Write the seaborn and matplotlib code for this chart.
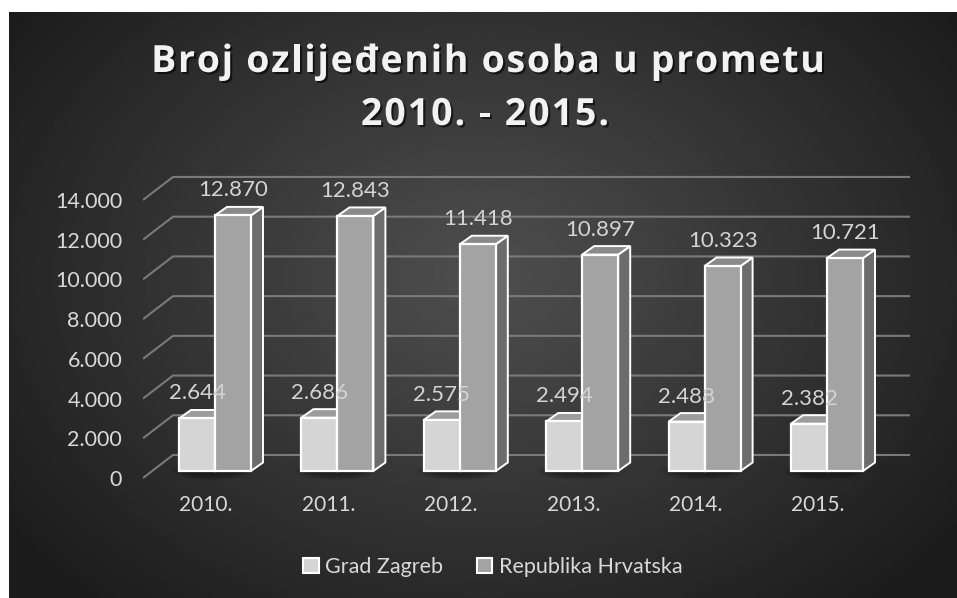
import matplotlib
matplotlib.use("Agg")
import matplotlib.pyplot as plt
import matplotlib.patheffects as pe
from matplotlib.patches import Polygon, Patch, Ellipse
from matplotlib.font_manager import FontProperties, findfont, get_font
from matplotlib.transforms import IdentityTransform
import seaborn as sns
import numpy as np
import pandas as pd

# podaci
godine = ["2010.", "2011.", "2012.", "2013.", "2014.", "2015."]
grad_zagreb = [2644, 2686, 2575, 2494, 2488, 2382]
republika_hrvatska = [12870, 12843, 11418, 10897, 10323, 10721]
serije = ["Grad Zagreb", "Republika Hrvatska"]
y_ticks = [0, 2000, 4000, 6000, 8000, 10000, 12000, 14000]
y_tick_labels = ["0", "2.000", "4.000", "6.000", "8.000", "10.000", "12.000", "14.000"]
naslov = ["Broj ozlijeđenih osoba u prometu", "2010. - 2015."]

def fmt(v):
    return f"{v:,}".replace(",", ".")

df = pd.DataFrame({
    "godina": godine * 2,
    "broj": grad_zagreb + republika_hrvatska,
    "podrucje": [serije[0]] * 6 + [serije[1]] * 6,
})

W, H = 957, 598
fig = plt.figure(figsize=(W / 100, H / 100), dpi=100, facecolor="white")
plt.rcParams['font.family'] = ['Lato', 'DejaVu Sans']

# pozadina - radijalni gradijent
bg = fig.add_axes([9 / W, 0, (W - 9) / W, (H - 12) / H])
yy, xx = np.mgrid[0:1:300j, 0:1:500j]
r = np.sqrt(((xx - 0.5) / 0.62) ** 2 + ((yy - 0.45) / 0.75) ** 2)
grad = np.clip(0.31 - 0.20 * r, 0.11, 0.32)
bg.imshow(grad, cmap="gray", vmin=0, vmax=1, aspect="auto", interpolation="bilinear")
bg.set_axis_off()

# glavna os (pikseli -> podaci)
ppu = 0.01986          # piksela po jedinici
step = 122.4           # piksela po kategoriji
x0_px, base_px = 215, 471
left_px, right_px, top_px, bot_px = 143, 910, 170, 480
ax = fig.add_axes([left_px / W, (H - bot_px) / H, (right_px - left_px) / W, (bot_px - top_px) / H])
ax.set_facecolor("none")

c_zg, c_rh = "#d5d5d5", "#a3a3a3"
sns.barplot(data=df, x="godina", y="broj", hue="podrucje", palette=[c_zg, c_rh],
            width=72 / step, gap=0, edgecolor="white", linewidth=1.6, legend=False,
            saturation=1, ax=ax)

ax.set_xlim((left_px - x0_px) / step, (right_px - x0_px) / step)
ax.set_ylim(-(bot_px - base_px) / ppu, (base_px - top_px) / ppu)

# mreza: prednja ravnina -> stražnji zid
front_off = -(478 - base_px) / ppu
back_off = (base_px - 455) / ppu
xl = ax.get_xlim()[0]
xb = (173 - x0_px) / step
xr = ax.get_xlim()[1]
for v in y_ticks:
    ax.plot([xl, xb, xr], [v + front_off, v + back_off, v + back_off],
            color="#7a7a7a", lw=1.5, zorder=1, solid_capstyle="butt")

# 3D efekt
dx = 12 / step
dy = 8.5 / ppu
top_cols = {c_zg: "#9c9c9c", c_rh: "#8a8a8a"}
side_cols = {c_zg: "#8a8a8a", c_rh: "#6c6c6c"}
bars = ax.patches[:12]
for i, b in enumerate(bars):
    z = 3 if i < 6 else 4
    x0, w, h = b.get_x(), b.get_width(), b.get_height()
    x1 = x0 + w
    col = c_zg if i < 6 else c_rh
    b.set_zorder(z + 0.2)
    # meka sjena
    if i < 6:
        for k in range(6):
            ax.add_patch(Ellipse((x1 - 0.02, 0), w * (2.3 - 0.15 * k), 900 - 80 * k,
                                 color="black", alpha=0.06, lw=0, zorder=2))
    top = Polygon([(x0, h), (x1, h), (x1 + dx, h + dy), (x0 + dx, h + dy)], closed=True,
                  facecolor=top_cols[col], edgecolor="white", lw=1.4, zorder=z)
    side = Polygon([(x1, 0), (x1 + dx, dy), (x1 + dx, h + dy), (x1, h)], closed=True,
                   facecolor=side_cols[col], edgecolor="white", lw=1.4, zorder=z)
    ax.add_patch(side)
    ax.add_patch(top)
    val = grad_zagreb[i] if i < 6 else republika_hrvatska[i - 6]
    ax.annotate(fmt(val), (x0 + w / 2, h), xytext=(0, 18), textcoords="offset points",
                ha="center", va="center", fontsize=16, color="#d4d4d4", zorder=6)

# osi
ax.set_yticks(np.array(y_ticks) + front_off, y_tick_labels)
ax.set_xticks(np.arange(len(godine)) - 9 / step, godine)
ax.tick_params(axis="y", length=0, pad=15, labelsize=15.5, labelcolor="#d9d9d9")
ax.tick_params(axis="x", length=0, pad=11, labelsize=15, labelcolor="#d9d9d9")
ax.set_xlabel("")
ax.set_ylabel("")
for s in ax.spines.values():
    s.set_visible(False)

# naslov s razmakom izmedu slova
title_fp = FontProperties(family="Open Sans", weight="bold", size=27)
ft = get_font(findfont(title_fp))
ft.set_size(27, 100)
shadow = [pe.withSimplePatchShadow(offset=(1.5, -1.5), shadow_rgbFace="black", alpha=0.6)]

def spaced_text(s, cx, baseline, spacing):
    adv = [ft.load_char(ord(c)).linearHoriAdvance / 65536 for c in s]
    total = sum(adv) + spacing * (len(s) - 1)
    x = cx - total / 2
    for c, a in zip(s, adv):
        fig.text(x, H - baseline, c, transform=IdentityTransform(), ha="left", va="baseline",
                 fontproperties=title_fp, color="#f2f2f2", path_effects=shadow)
        x += a + spacing

spaced_text(naslov[0], 488, 72, 1.7)
spaced_text(naslov[1], 485, 125, 2.0)

# legenda
handles = [Patch(facecolor=c_zg, edgecolor="white", lw=1.5),
           Patch(facecolor=c_rh, edgecolor="white", lw=1.5)]
leg = fig.legend(handles, serije, loc="center", bbox_to_anchor=(493 / W, 1 - 567 / H),
                 ncol=2, frameon=False, fontsize=15.5, labelcolor="#d9d9d9",
                 handlelength=0.7, handleheight=0.7, handletextpad=0.3, columnspacing=1.6)

fig.savefig("out.png", dpi=100, facecolor="white")
